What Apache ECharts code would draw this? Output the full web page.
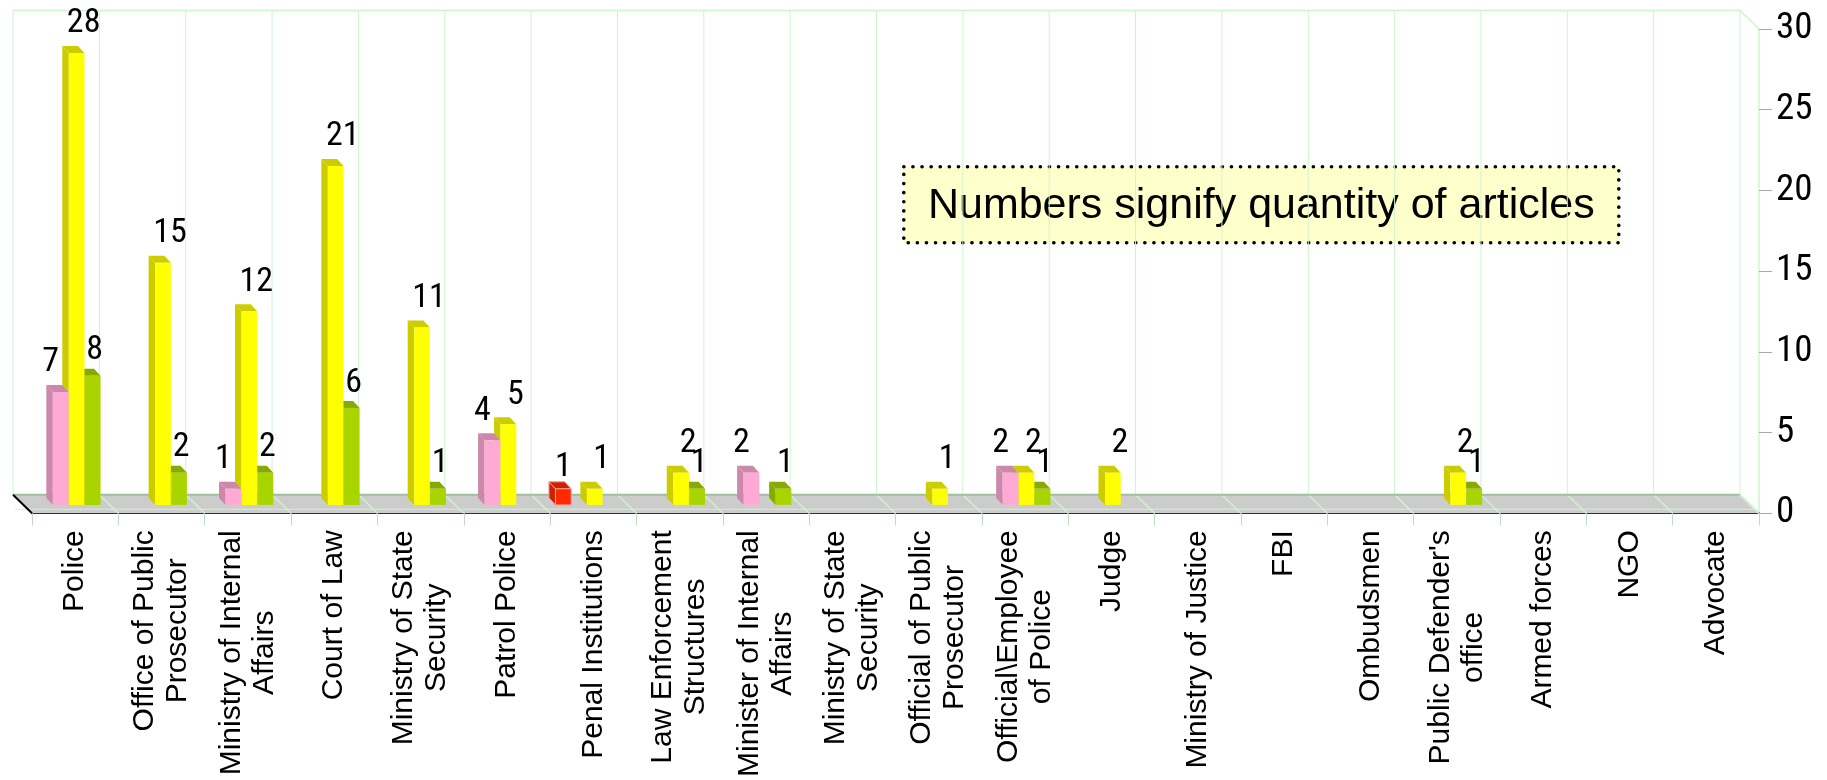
<!DOCTYPE html>
<html><head><meta charset="utf-8">
<script src="https://cdn.jsdelivr.net/npm/echarts@6.0.0/dist/echarts.min.js"></script>
<style>html,body{margin:0;padding:0;background:#fff}#c{width:1827px;height:780px}</style>
</head><body><div id="c"></div>
<script>
// ---- data ----
const categories = ['Police', 'Office of Public\nProsecutor', 'Ministry of Internal\nAffairs', 'Court of Law',
  'Ministry of State\nSecurity', 'Patrol Police', 'Penal Institutions', 'Law Enforcement\nStructures',
  'Minister of Internal\nAffairs', 'Ministry of State\nSecurity', 'Official of Public\nProsecutor',
  'Official\\Employee\nof Police', 'Judge', 'Ministry of Justice', 'FBI', 'Ombudsmen',
  "Public Defender's\noffice", 'Armed forces', 'NGO', 'Advocate'];
const redValues    = [0, 0, 0, 0, 0, 0, 1, 0, 0, 0, 0, 0, 0, 0, 0, 0, 0, 0, 0, 0];
const pinkValues   = [7, 0, 1, 0, 0, 4, 0, 0, 2, 0, 0, 2, 0, 0, 0, 0, 0, 0, 0, 0];
const yellowValues = [28, 15, 12, 21, 11, 5, 1, 2, 0, 0, 1, 2, 2, 0, 0, 0, 2, 0, 0, 0];
const greenValues  = [8, 2, 2, 6, 1, 0, 0, 1, 1, 0, 0, 1, 0, 0, 0, 0, 1, 0, 0, 0];
const yMin = 0, yMax = 30, yStep = 5;
const noteText = 'Numbers signify quantity of articles';

// ---- styles ----
const SER = [
  {vals: redValues,    front: '#ff2a00', dark: '#cc2200', stroke: '#ff9a9a', off: -0.347, lx: 0,   ly: -4},
  {vals: pinkValues,   front: '#ffaad4', dark: '#cc88aa', off: -0.168, lx: -10, ly: -12},
  {vals: yellowValues, front: '#ffff00', dark: '#cccc00', off: 0.017,  lx: 7,   ly: -12},
  {vals: greenValues,  front: '#aad400', dark: '#88aa00', off: 0.203,  lx: 2,   ly: -8}
];
const barData = categories.map((c, i) => [i].concat(SER.map(s => s.vals[i])));
const GREEN = '#cff3cf';
const DEPTH = [-19, -18.5];
const NUMFONT = '"Roboto Condensed", "DejaVu Sans Condensed", sans-serif';

function renderFrame(params, api) {
  const n = categories.length;
  const catW = api.size([1, 0])[0];
  const p0 = api.coord([0, yMin]);
  const p30 = api.coord([0, yMax]);
  const y0 = p0[1], yt = p30[1];
  const xL = p0[0] - catW / 2, xR = xL + catW * n;
  const dx = DEPTH[0], dy = DEPTH[1];
  const ch = [];
  ch.push({type: 'polygon', shape: {points: [[xL, y0], [xR, y0], [xR + dx, y0 + dy], [xL + dx, y0 + dy]]},
    style: {fill: '#cccccc'}});
  for (let i = 0; i <= n; i++) {
    const xb = xL + catW * i + dx;
    ch.push({type: 'line', shape: {x1: xb, y1: y0 + dy, x2: xb, y2: yt + dy}, style: {stroke: GREEN, lineWidth: 1}});
  }
  ch.push({type: 'line', shape: {x1: xL + dx, y1: yt + dy, x2: xR + dx, y2: yt + dy}, style: {stroke: GREEN, lineWidth: 1.5}});
  for (let i = 1; i < n; i++) {
    const xf = xL + catW * i;
    ch.push({type: 'line', shape: {x1: xf, y1: y0, x2: xf + dx, y2: y0 + dy}, style: {stroke: GREEN, lineWidth: 1.5}});
  }
  ch.push({type: 'line', shape: {x1: xL + dx + 2, y1: y0 - 4, x2: xR - 2, y2: y0 - 4}, style: {stroke: GREEN, lineWidth: 1}});
  ch.push({type: 'line', shape: {x1: xL + dx, y1: y0 + dy, x2: xR + dx, y2: y0 + dy}, style: {stroke: '#9fbf9f', lineWidth: 2}});
  ch.push({type: 'line', shape: {x1: xR + dx, y1: yt + dy, x2: xR, y2: yt}, style: {stroke: GREEN, lineWidth: 1.5}});
  ch.push({type: 'line', shape: {x1: xR + dx, y1: y0 + dy, x2: xR, y2: y0}, style: {stroke: GREEN, lineWidth: 2}});
  ch.push({type: 'line', shape: {x1: xL + dx, y1: y0 + dy, x2: xL, y2: y0}, style: {stroke: '#000', lineWidth: 2}});
  return {type: 'group', children: ch};
}

function renderBars(params, api) {
  const i = api.value(0);
  const catW = api.size([1, 0])[0];
  const base = api.coord([i, 0]);
  const bw = catW * 0.182;
  const DX = -6.5, DY = -7, LIFT = -8.3;
  const ch = [], labels = [];
  for (let k = SER.length - 1; k >= 0; k--) {
    const v = api.value(k + 1);
    if (!v) continue;
    const s = SER[k];
    const top = api.coord([i, v]);
    const cx = base[0] + catW * s.off;
    const x0 = cx - bw / 2, x1 = cx + bw / 2;
    const yb = base[1] + LIFT, yt = top[1] + LIFT;
    const st = s.stroke ? {stroke: s.stroke, lineWidth: 1} : {};
    ch.push({type: 'polygon', shape: {points: [[x0, yt], [x0, yb], [x0 + DX, yb + DY], [x0 + DX, yt + DY]]},
      style: Object.assign({fill: s.dark}, st)});
    ch.push({type: 'polygon', shape: {points: [[x0, yt], [x1, yt], [x1 + DX, yt + DY], [x0 + DX, yt + DY]]},
      style: Object.assign({fill: s.dark}, st)});
    ch.push({type: 'rect', shape: {x: x0, y: yt, width: bw, height: yb - yt},
      style: Object.assign({fill: s.front}, st)});
    labels.push({type: 'text', z2: 10, style: {text: String(v), x: cx + s.lx, y: yt + s.ly,
      align: 'center', verticalAlign: 'bottom', fill: '#000', font: '34px ' + NUMFONT}});
  }
  return {type: 'group', children: ch.concat(labels)};
}

const chart = echarts.init(document.getElementById('c'), null, {renderer: 'canvas'});
chart.setOption({
  animation: false,
  backgroundColor: '#ffffff',
  grid: {left: 32, right: 68, top: 29, bottom: 264, containLabel: false},
  xAxis: {
    type: 'category', data: categories, boundaryGap: true,
    axisLine: {show: true, lineStyle: {color: '#000', width: 2}},
    axisTick: {show: true, interval: 0, length: 12, lineStyle: {color: '#c4d8c4', width: 1}},
    axisLabel: {
      interval: 0, rotate: 90, margin: 17, color: '#000',
      formatter: v => v.split('\n').map(s => '{c|' + s + '}').join('\n'),
      rich: {c: {align: 'center', fontSize: 30, lineHeight: 33, fontFamily: '"Liberation Sans", Arial, sans-serif', color: '#000'}}
    },
    splitLine: {show: false}
  },
  yAxis: {
    type: 'value', position: 'right', min: yMin, max: yMax, interval: yStep,
    axisLine: {show: true, lineStyle: {color: GREEN, width: 1.5}},
    axisTick: {show: true, length: 13, lineStyle: {color: '#a8a8a8', width: 1}},
    axisLabel: {margin: 17, color: '#000', fontSize: 37, fontFamily: NUMFONT, padding: [0, 0, 7, 0]},
    splitLine: {show: false}
  },
  series: [
    {type: 'custom', renderItem: renderFrame, data: [[0, 0]], encode: {x: 0, y: 1}, z: 1, silent: true},
    {type: 'custom', renderItem: renderBars, data: barData, encode: {x: 0, y: [1, 2, 3, 4]}, z: 2, silent: true}
  ],
  graphic: [{
    type: 'group', left: 902, top: 165, z: 100,
    children: [
      {type: 'rect', shape: {x: 0, y: 0, width: 715, height: 76},
        style: {fill: '#ffffcc', stroke: '#000', lineWidth: 3.6, lineDash: [0.1, 9], lineCap: 'round'}},
      {type: 'text', style: {text: noteText, x: 357.5, y: 39, align: 'center', verticalAlign: 'middle',
        font: '43px "Liberation Sans", Arial, sans-serif', fill: '#000'}}
    ]
  }]
});
</script></body></html>
